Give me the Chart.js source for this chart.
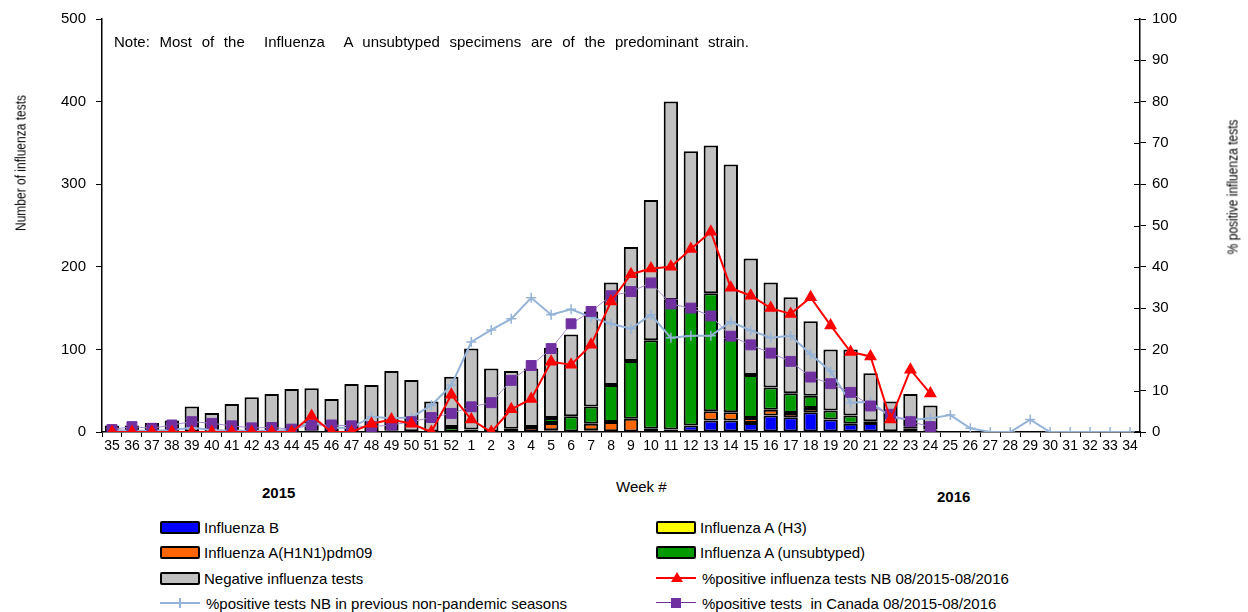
<!DOCTYPE html>
<html>
<head>
<meta charset="utf-8">
<script src="https://cdn.jsdelivr.net/npm/chart.js@4.4.1/dist/chart.umd.min.js"></script>
<style>
    body { margin: 0; background: #fff; }
    #wrap { position: relative; width: 1248px; height: 612px; overflow: hidden; font-family: 'Liberation Sans', Arial, sans-serif; color: #000; }
    #chartBox { position: absolute; left: 0; top: 0; width: 1248px; height: 460px; }
    .txt { position: absolute; white-space: nowrap; }
    .vtitle { position: absolute; font-size: 15px; transform: translate(-50%, -50%) rotate(-90deg) scaleX(0.8); white-space: nowrap; }
    .leg { position: absolute; font-size: 15px; display: flex; align-items: center; height: 20px; }
    .sw { width: 36px; height: 9px; border: 2px solid #000; border-radius: 2px; margin-right: 4px; }
    .ln { position: relative; width: 40px; height: 12px; margin-right: 6px; }
    .ln .bar { position: absolute; left: 0; right: 0; top: 5px; height: 2px; }
</style>
</head>
<body>
<div id="wrap">
    <div id="chartBox"><canvas id="fluChart" width="1248" height="460"></canvas></div>

    <div class="txt" style="left:114px; top:33px; font-size:15px; word-spacing:5.5px;">Note: Most of the&nbsp; Influenza&nbsp; A unsubtyped specimens are of the predominant strain.</div>

    <div class="vtitle" style="left:20px; top:163px;">Number of influenza tests</div>
    <div class="vtitle" style="left:1232px; top:187px;">% positive influenza tests</div>

    <div class="txt" style="left:262px; top:484px; font-size:15px; font-weight:bold;">2015</div>
    <div class="txt" style="left:616px; top:478px; font-size:15px;">Week #</div>
    <div class="txt" style="left:937px; top:488px; font-size:15px; font-weight:bold;">2016</div>

    <div class="leg" style="left:160px; top:517px;"><div class="sw" style="background:#0000ff"></div>Influenza B</div>
    <div class="leg" style="left:656px; top:517px;"><div class="sw" style="background:#ffff00"></div>Influenza A (H3)</div>
    <div class="leg" style="left:160px; top:542px;"><div class="sw" style="background:#ff6600"></div>Influenza A(H1N1)pdm09</div>
    <div class="leg" style="left:656px; top:542px;"><div class="sw" style="background:#009900"></div>Influenza A (unsubtyped)</div>
    <div class="leg" style="left:160px; top:568px;"><div class="sw" style="background:#c0c0c0"></div>Negative influenza tests</div>
    <div class="leg" style="left:656px; top:568px;"><div class="ln"><div class="bar" style="background:#ff0000"></div><div style="position:absolute;left:15px;top:0;width:0;height:0;border-left:6px solid transparent;border-right:6px solid transparent;border-bottom:10px solid #ff0000;"></div></div>%positive influenza tests NB 08/2015-08/2016</div>
    <div class="leg" style="left:160px; top:593px;"><div class="ln"><div class="bar" style="background:#95b3d7"></div><div style="position:absolute;left:19px;top:1px;width:2px;height:10px;background:#95b3d7;"></div></div>%positive tests NB in previous non-pandemic seasons</div>
    <div class="leg" style="left:656px; top:593px;"><div class="ln"><div class="bar" style="background:#7030a0;height:1px;"></div><div style="position:absolute;left:15px;top:1px;width:10px;height:10px;background:#7030a0;"></div></div>%positive tests&nbsp; in Canada 08/2015-08/2016</div>
</div>

<script>
var weeks = ['35', '36', '37', '38', '39', '40', '41', '42', '43', '44', '45', '46', '47', '48', '49', '50', '51', '52',
    '1', '2', '3', '4', '5', '6', '7', '8', '9', '10', '11', '12', '13', '14', '15', '16', '17', '18', '19', '20',
    '21', '22', '23', '24', '25', '26', '27', '28', '29', '30', '31', '32', '33', '34'];

// number of tests per week (weeks 35..52, 1..24)
var fluB = [0, 0, 0, 0, 0, 0, 0, 0, 0, 0, 2, 0, 0, 0, 0, 0, 0, 0,
    3, 0, 0, 1, 2, 0, 2, 1, 0, 4, 3, 8, 14, 14, 11, 20, 18, 24, 15, 10, 11, 1, 4, 2];
var fluH1N1 = [0, 0, 0, 0, 0, 0, 0, 0, 0, 0, 0, 0, 0, 0, 0, 1, 0, 0,
    0, 0, 0, 5, 9, 0, 8, 11, 16, 0, 0, 0, 11, 10, 6, 7, 5, 5, 0, 0, 0, 0, 0, 0];
var fluH3 = [0, 0, 0, 0, 0, 0, 0, 0, 0, 0, 0, 0, 0, 0, 0, 0, 0, 0,
    0, 0, 0, 0, 0, 0, 0, 0, 0, 0, 0, 0, 0, 0, 0, 0, 0, 0, 0, 0, 0, 0, 0, 0];
var fluAUnsub = [0, 0, 0, 0, 0, 0, 0, 0, 0, 0, 0, 0, 0, 1, 2, 0, 0, 6,
    0, 0, 4, 0, 6, 19, 21, 45, 70, 107, 157, 143, 143, 89, 52, 27, 24, 15, 11, 10, 2, 0, 3, 1];
var negative = [8, 8, 11, 14, 31, 23, 34, 42, 46, 52, 51, 40, 58, 56, 72, 62, 37, 61,
    98, 77, 70, 71, 85, 99, 115, 124, 138, 170, 240, 189, 179, 211, 141, 127, 116, 90, 74, 80, 58, 36, 39, 29];

// percent positive
var pctNB = [0, 0, 0, 0, 0, 0, 0, 0, 0, 0, 3.9, 0, 0, 2, 3, 2, 0, 9,
    3, 0, 5.5, 8, 17, 16.3, 21.1, 31.6, 38.2, 39.6, 40, 44.3, 48.5, 34.9, 33, 30, 28.6, 32.6, 25.8, 19.4, 18.3, 3, 15.1, 9.3];
var pctPrevSeasons = [0.5, 0.3, 0.3, 0.5, 1, 0.5, 0.3, 0.3, 0.3, 0.5, 2.5, 1, 1, 3.7, 3.3, 3.5, 6.5, 11.3,
    21.8, 24.7, 27.4, 32.5, 28.4, 29.7, 27.8, 26.2, 25, 28.4, 22.8, 23.3, 23.3, 26.7, 24.6, 22.8, 23.3, 18.8, 14.7, 7.1,
    7.3, 3.7, 2.9, 3.3, 4.1, 0.9, 0, 0, 3, 0, 0, 0, 0, 0];
var pctCanada = [0.6, 1.3, 0.9, 1.7, 2.5, 2.1, 1.5, 1, 1.1, 0.7, 1.7, 1.7, 1.5, 1.3, 1.7, 2.5, 3.5, 4.5,
    6.1, 7.1, 12.5, 16.1, 20.2, 26.2, 29.2, 33, 34, 36.1, 31, 30, 28.1, 23.2, 21.1, 19.1, 17.1, 13.3, 11.7, 9.6,
    6.3, 4.3, 2.5, 1.3];

function padOut(arr) {
    var out = arr.slice();
    while (out.length < weeks.length) out.push(null);
    return out;
}

function barSet(label, data, color) {
    return {
        type: 'bar',
        label: label,
        data: padOut(data),
        backgroundColor: color,
        borderColor: '#000',
        borderWidth: 2,
        borderSkipped: false,
        yAxisID: 'y',
        stack: 'tests',
        order: 10,
        barPercentage: 0.72,
        categoryPercentage: 1.0
    };
}

// little inward ticks on the right axis
var innerTicks = {
    id: 'innerTicks',
    afterDraw: function (chart) {
        var sc = chart.scales.y1;
        var ctx = chart.ctx;
        ctx.save();
        ctx.strokeStyle = '#000';
        ctx.lineWidth = 1;
        for (var i = 0; i < sc.ticks.length; i++) {
            var yy = Math.round(sc.getPixelForValue(sc.ticks[i].value)) + 0.5;
            ctx.beginPath();
            ctx.moveTo(sc.left - 6, yy);
            ctx.lineTo(sc.left, yy);
            ctx.stroke();
        }
        ctx.restore();
    }
};

var ctx = document.getElementById('fluChart').getContext('2d');
var fluChart = new Chart(ctx, {
    data: {
        labels: weeks,
        datasets: [
            barSet('Influenza B', fluB, '#0000ff'),
            barSet('Influenza A(H1N1)pdm09', fluH1N1, '#ff6600'),
            barSet('Influenza A (H3)', fluH3, '#ffff00'),
            barSet('Influenza A (unsubtyped)', fluAUnsub, '#009900'),
            barSet('Negative influenza tests', negative, '#c0c0c0'),
            {
                type: 'line',
                label: '%positive tests NB in previous non-pandemic seasons',
                data: pctPrevSeasons,
                yAxisID: 'y1',
                borderColor: '#95b3d7',
                borderWidth: 2,
                pointStyle: 'cross',
                pointRadius: 5,
                pointBorderColor: '#95b3d7',
                pointBorderWidth: 1.5,
                tension: 0,
                order: 3
            },
            {
                type: 'line',
                label: '%positive tests  in Canada 08/2015-08/2016',
                data: padOut(pctCanada),
                yAxisID: 'y1',
                borderColor: '#a68bd0',
                borderWidth: 1,
                pointStyle: 'rect',
                pointRadius: 7,
                pointBackgroundColor: '#7030a0',
                pointBorderColor: '#7030a0',
                tension: 0,
                order: 2
            },
            {
                type: 'line',
                label: '%positive influenza tests NB 08/2015-08/2016',
                data: padOut(pctNB),
                yAxisID: 'y1',
                borderColor: '#ff0000',
                borderWidth: 2,
                pointStyle: 'triangle',
                pointRadius: 5.5,
                pointBackgroundColor: '#ff0000',
                pointBorderColor: '#ff0000',
                tension: 0,
                order: 1
            }
        ]
    },
    options: {
        responsive: false,
        animation: false,
        layout: { padding: { top: 17, bottom: 0, left: 0, right: 0 } },
        plugins: {
            legend: { display: false },
            tooltip: { enabled: false }
        },
        scales: {
            x: {
                stacked: true,
                grid: { display: true, drawOnChartArea: false, offset: true, color: '#000', tickLength: 5 },
                border: { color: '#000', width: 1.5 },
                ticks: {
                    color: '#000',
                    autoSkip: false,
                    maxRotation: 0,
                    padding: 1,
                    font: { family: "'Liberation Sans', Arial, sans-serif", size: 14 }
                },
                afterFit: function (s) { s.height = 28; }
            },
            y: {
                stacked: true,
                position: 'left',
                min: 0,
                max: 500,
                ticks: {
                    stepSize: 100,
                    color: '#000',
                    padding: 10,
                    font: { family: "'Liberation Sans', Arial, sans-serif", size: 15 }
                },
                grid: { drawOnChartArea: false, color: '#000', tickLength: 6 },
                border: { color: '#000', width: 1.5 },
                afterFit: function (s) { s.width = 102; }
            },
            y1: {
                position: 'right',
                min: 0,
                max: 100,
                ticks: {
                    stepSize: 10,
                    color: '#000',
                    padding: 6,
                    font: { family: "'Liberation Sans', Arial, sans-serif", size: 15 }
                },
                grid: { drawOnChartArea: false, color: '#000', tickLength: 6 },
                border: { color: '#000', width: 1.5 },
                afterFit: function (s) { s.width = 108; }
            }
        }
    },
    plugins: [innerTicks]
});
</script>
</body>
</html>
